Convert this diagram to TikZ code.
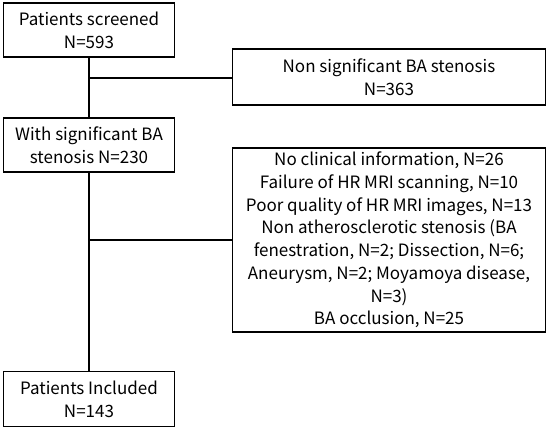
\documentclass[tikz,border=0pt]{standalone}
\usepackage{fontspec}
\setmainfont{Noto Sans CJK SC}
\usepackage{tikz}

\tikzset{
  flowbox/.style = {draw, line width = 1.9pt, align = center,
    inner sep = 0pt, font = \fontsize{17}{22.7}\selectfont},
  flowline/.style = {line width = 1.9pt}
}

\begin{document}
\begin{tikzpicture}[x = 1pt, y = -1pt]
    \useasboundingbox (0,0) rectangle (551,428);
    \node [flowbox, minimum width = 171pt, minimum height = 54pt]
    (screened) at (89,30) {Patients screened\\N=593};
    \node [flowbox, minimum width = 313pt, minimum height = 56pt]
    (nonsig) at (389,77) {Non significant BA stenosis\\N=363};
    \node [flowbox, minimum width = 171pt, minimum height = 54pt]
    (sig) at (89,145) {With significant BA\\stenosis N=230};
    \node [flowbox, minimum width = 313pt, minimum height = 184pt]
    (excluded) at (389,240) {No clinical information, N=26\\
      Failure of HR MRI scanning, N=10\\
      Poor quality of HR MRI images, N=13\\
      Non atherosclerotic stenosis (BA\\
      fenestration, N=2; Dissection, N=6;\\
      Aneurysm, N=2; Moyamoya disease,\\
      N=3)\\
      BA occlusion, N=25};
    \node [flowbox, minimum width = 171pt, minimum height = 55pt]
    (included) at (89,399) {Patients Included\\N=143};
    \draw [flowline] (screened) -- (sig);
    \draw [flowline] (sig) -- (included);
    \draw [flowline] (screened.south |- 0,78) -- (nonsig.west |- 0,78);
    \draw [flowline] (screened.south |- excluded.west) -- (excluded.west);
  \end{tikzpicture}
\end{document}
